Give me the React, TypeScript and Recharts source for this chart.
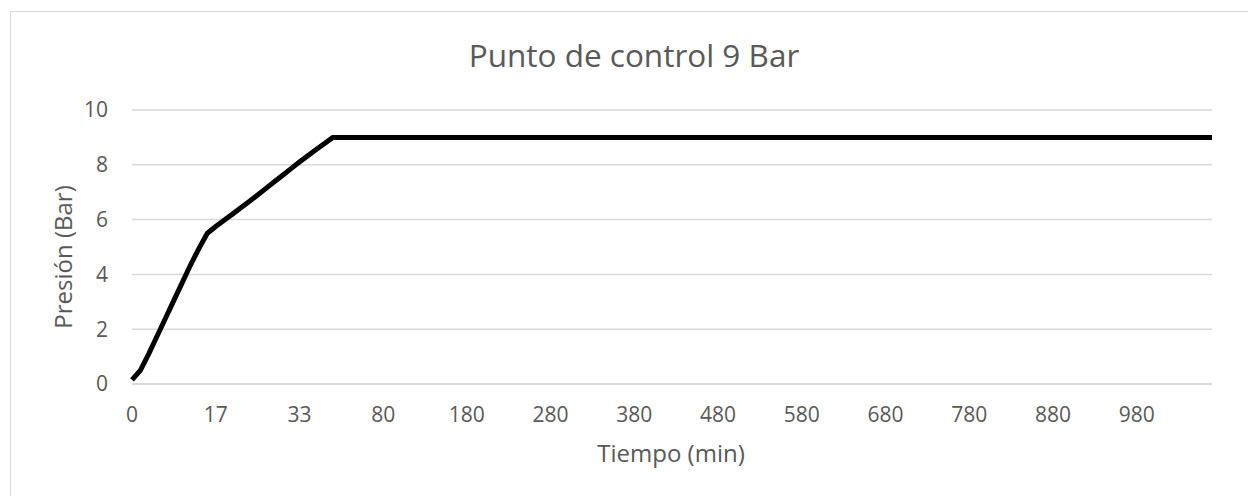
import { CartesianGrid, Customized, Line, LineChart, XAxis, YAxis } from "recharts";

// tiempo en minutos (categorías del eje X)
const tiempos = [
  "0", "2", "3", "5", "7", "8", "10", "12", "13", "15",
  "17", "18", "20", "22", "23", "25", "27", "28", "30", "32",
  "33", "35", "37", "38", "40", "47", "53", "60", "67", "73",
  "80", "90", "100", "110", "120", "130", "140", "150", "160", "170",
  "180", "190", "200", "210", "220", "230", "240", "250", "260", "270",
  "280", "290", "300", "310", "320", "330", "340", "350", "360", "370",
  "380", "390", "400", "410", "420", "430", "440", "450", "460", "470",
  "480", "490", "500", "510", "520", "530", "540", "550", "560", "570",
  "580", "590", "600", "610", "620", "630", "640", "650", "660", "670",
  "680", "690", "700", "710", "720", "730", "740", "750", "760", "770",
  "780", "790", "800", "810", "820", "830", "840", "850", "860", "870",
  "880", "890", "900", "910", "920", "930", "940", "950", "960", "970",
  "980", "990", "1000", "1010", "1020", "1030", "1040", "1050", "1060", "1070",
];

// presión en bar
const presion = [
  0.15, 0.5, 1.1, 1.75, 2.4, 3.05, 3.7, 4.35, 4.95, 5.5,
  5.75, 5.98, 6.2, 6.43, 6.66, 6.9, 7.14, 7.38, 7.62, 7.86,
  8.1, 8.33, 8.56, 8.78, 9, 9, 9, 9, 9, 9,
  9, 9, 9, 9, 9, 9, 9, 9, 9, 9,
  9, 9, 9, 9, 9, 9, 9, 9, 9, 9,
  9, 9, 9, 9, 9, 9, 9, 9, 9, 9,
  9, 9, 9, 9, 9, 9, 9, 9, 9, 9,
  9, 9, 9, 9, 9, 9, 9, 9, 9, 9,
  9, 9, 9, 9, 9, 9, 9, 9, 9, 9,
  9, 9, 9, 9, 9, 9, 9, 9, 9, 9,
  9, 9, 9, 9, 9, 9, 9, 9, 9, 9,
  9, 9, 9, 9, 9, 9, 9, 9, 9, 9,
  9, 9, 9, 9, 9, 9, 9, 9, 9, 9,
];

const yTicks = [0, 2, 4, 6, 8, 10];

const titulo = "Punto de control 9 Bar";
const tituloX = "Tiempo (min)";
const tituloY = "Presión (Bar)";

const data = tiempos.map((t, i) => ({ t, p: presion[i] }));

const FONT = "'Open Sans', sans-serif";
const GRIS = "#595959";
const LINEA = "#d9d9d9";

function Textos() {
  return (
    <g fontFamily={FONT} fill={GRIS}>
      <text x={634} y={67} textAnchor="middle" fontSize={31.5}>
        {titulo}
      </text>
      <text x={671} y={462} textAnchor="middle" fontSize={24}>
        {tituloX}
      </text>
      <text
        x={62}
        y={257}
        textAnchor="middle"
        dominantBaseline="central"
        fontSize={24}
        transform="rotate(-90, 62, 257)"
      >
        {tituloY}
      </text>
    </g>
  );
}

export default function App() {
  return (
    <div
      style={{
        position: "absolute",
        left: 0,
        top: 0,
        width: 1248,
        height: 496,
        overflow: "hidden",
        background: "#fff",
      }}
    >
      <div
        style={{
          position: "absolute",
          left: 10,
          top: 11,
          width: 1300,
          height: 600,
          border: `1.5px solid ${LINEA}`,
        }}
      />
      <div style={{ position: "absolute", left: 0, top: 0 }}>
        <LineChart
          width={1248}
          height={496}
          data={data}
          margin={{ top: 110, right: 36, bottom: 72, left: 62 }}
        >
          <CartesianGrid vertical={false} stroke={LINEA} strokeWidth={1.5} />
          <XAxis
            dataKey="t"
            interval={9}
            height={40}
            tickLine={false}
            axisLine={{ stroke: LINEA, strokeWidth: 1.5 }}
            tickMargin={17}
            tick={{ fill: GRIS, fontSize: 21, fontFamily: FONT }}
          />
          <YAxis
            domain={[0, 10]}
            ticks={yTicks}
            width={70}
            tickLine={false}
            axisLine={false}
            tickMargin={18}
            tick={{ fill: GRIS, fontSize: 21, fontFamily: FONT }}
          />
          <Line
            type="linear"
            dataKey="p"
            stroke="#000"
            strokeWidth={5}
            dot={false}
            activeDot={false}
            strokeLinejoin="round"
            isAnimationActive={false}
          />
          <Customized component={Textos} />
        </LineChart>
      </div>
    </div>
  );
}
